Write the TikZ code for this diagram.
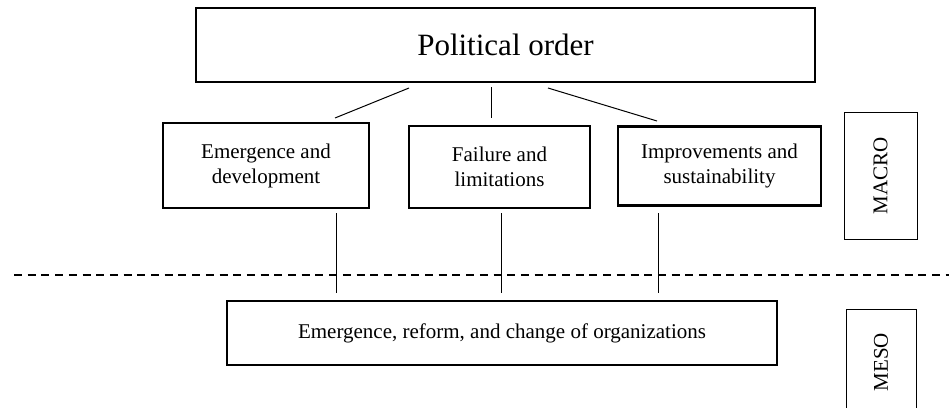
\documentclass[tikz,border=0pt]{standalone}
\usepackage{fontspec}
\setmainfont{Liberation Serif}
\begin{document}
\begin{tikzpicture}[x=1pt,y=-1pt,
  box/.style={draw, line width=2.2pt, rectangle, inner sep=0pt, align=center, font=\fontsize{21}{25}\selectfont},
  level/.style={draw, line width=1pt, rectangle, inner sep=0pt, font=\fontsize{21}{25}\selectfont},
  link/.style={line width=1pt},
  sep/.style={line width=1.4pt, dash pattern=on 8pt off 5.7pt}]
\useasboundingbox (0,0) rectangle (949,407);
\clip (0,0) rectangle (949,407);
\node[box, minimum width=619pt, minimum height=74pt, font=\fontsize{31}{36}\selectfont] (po) at (505.5,45) {Political order};
\node[box, minimum width=206pt, minimum height=85pt] (em) at (266,165.5) {Emergence and\\development};
\node[box, minimum width=181pt, minimum height=82pt] (fa) at (499.5,167) {Failure and\\limitations};
\node[box, minimum width=203pt, minimum height=79pt] (im) at (719.5,166) {Improvements and\\sustainability};
\node[box, minimum width=550pt, minimum height=64pt] (org) at (502,333) {Emergence, reform, and change of organizations};
\node[level, minimum width=127pt, minimum height=73pt, rotate=90] (macro) at (880.5,175.5) {MACRO};
\node[level, minimum width=106pt, minimum height=70pt, rotate=90] (meso) at (881,362) {MESO};
% dashed separator
\coordinate (dl) at (14,275);
\coordinate (dr) at (949,275);
\draw[sep] (dl) -- (dr);
% connectors from political order
\coordinate (p1) at (409,88);
\coordinate (e1) at (335,118);
\coordinate (p2) at (491,87);
\coordinate (f1) at (491,118);
\coordinate (p3) at (548,88);
\coordinate (i1) at (657,121);
\draw[link] (p1) -- (e1);
\draw[link] (p2) -- (f1);
\draw[link] (p3) -- (i1);
% connectors to organizations
\coordinate (e2) at (336,213);
\coordinate (o1) at (336,293);
\coordinate (f2) at (501,213);
\coordinate (o2) at (501,293);
\coordinate (i2) at (658,213);
\coordinate (o3) at (658,293);
\draw[link] (e2) -- (o1);
\draw[link] (f2) -- (o2);
\draw[link] (i2) -- (o3);
\end{tikzpicture}
\end{document}
